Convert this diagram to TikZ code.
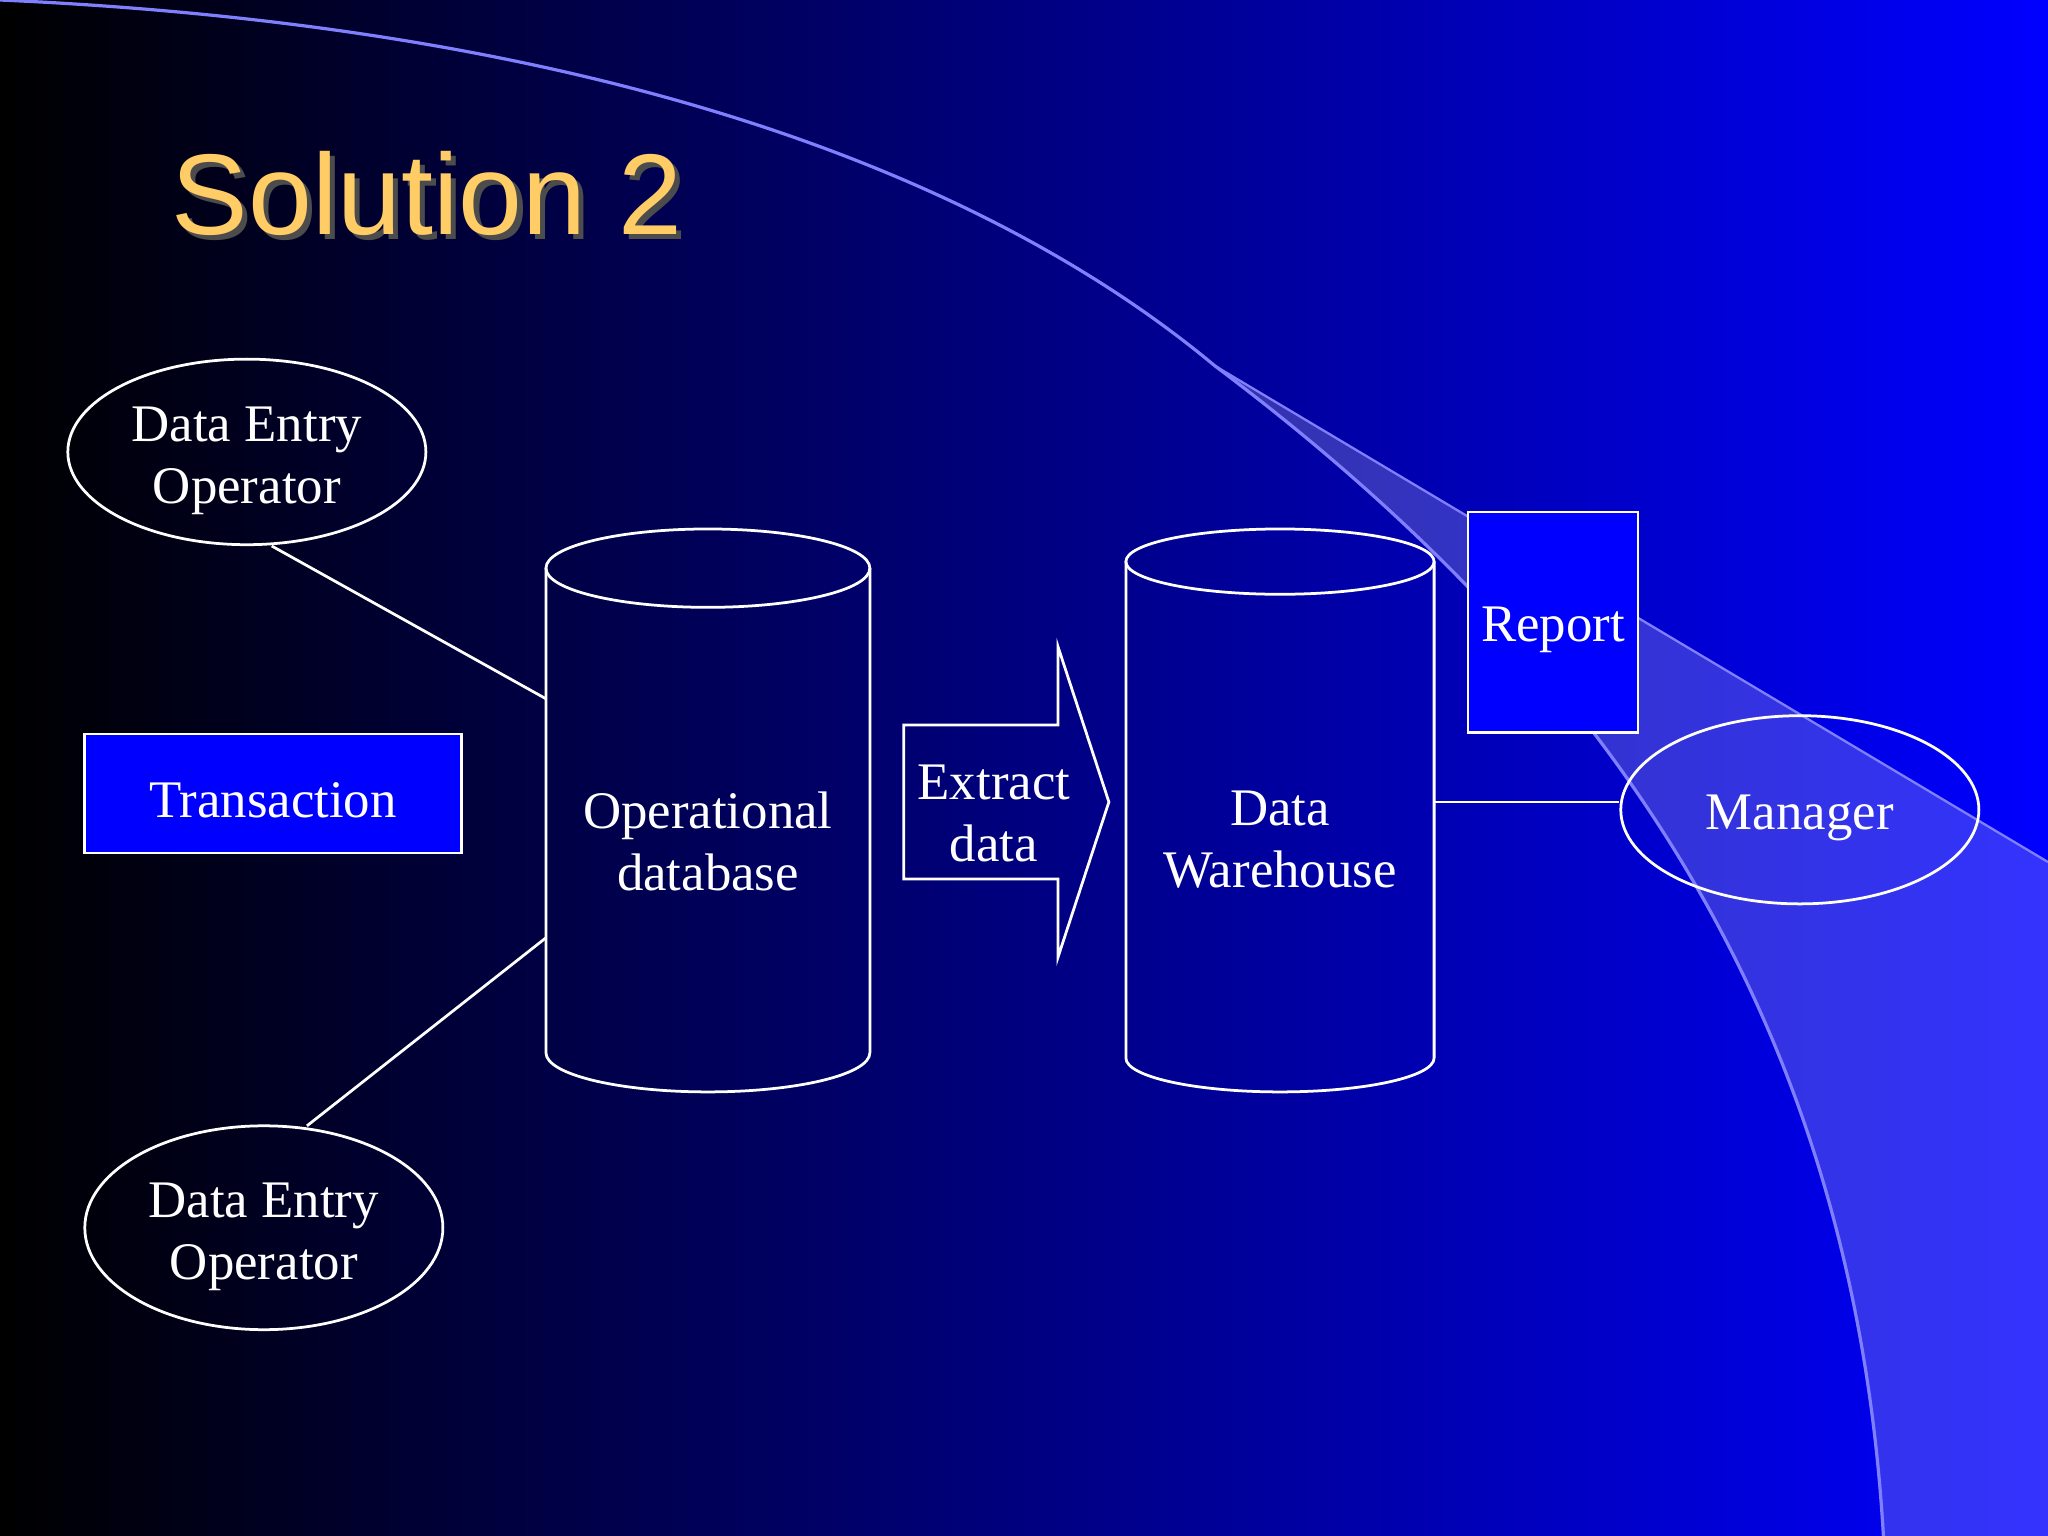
\documentclass[tikz,border=0pt]{standalone}
\usepackage{fontspec}
\setmainfont{Liberation Serif}
\newfontfamily\titlefont{Liberation Sans}
\usetikzlibrary{shapes.geometric}
\definecolor{pblue}{RGB}{0,0,255}
\definecolor{titlec}{RGB}{255,204,102}
\begin{document}
\begin{tikzpicture}[x=0.01cm,y=-0.01cm,
  wline/.style={draw=white,line width=0.6pt},
  lbl/.style={text=white,align=center,font=\fontsize{11.5}{13.5}\selectfont},
  ell/.style={ellipse,wline,inner sep=0pt},
  bluebox/.style={wline,fill=pblue,inner sep=0pt}]
\useasboundingbox (0,0) rectangle (1568,1176);
\shade[left color=black,right color=pblue] (0,0) rectangle (1568,1176);
% light band
\fill[white,opacity=0.2] (930,280) .. controls (1250,520) and (1420,800) .. (1442,1176) -- (1568,1176) -- (1568,660) -- cycle;
\draw[pblue!50!white,line width=0.7pt] (0,0) .. controls (450,20) and (750,130) .. (930,280) .. controls (1250,520) and (1420,800) .. (1442,1176);
\draw[pblue!50!white,line width=0.5pt] (930,280) -- (1568,660);
% title
\node[text=black!70,font=\titlefont\fontsize{25}{28}\selectfont,anchor=west] at (123,152) {Solution 2};
\node[text=titlec,font=\titlefont\fontsize{25}{28}\selectfont,anchor=west] (title) at (119,148) {Solution 2};
% ellipses
\node[ell,minimum width=2.74cm,minimum height=1.42cm,label={[lbl,yshift=-0.07cm]center:{Data Entry\\Operator}}] (deo1) at (189,346) {};
\node[ell,minimum width=2.74cm,minimum height=1.56cm,label={[lbl,yshift=-0.07cm]center:{Data Entry\\Operator}}] (deo2) at (202,940) {};
\node[ell,minimum width=2.74cm,minimum height=1.44cm,label={[lbl,yshift=-0.06cm]center:Manager}] (mgr) at (1378,620) {};
% boxes
\node[bluebox,minimum width=2.88cm,minimum height=0.91cm,label={[lbl,yshift=-0.05cm]center:Transaction}] (trans) at (209,607.5) {};
\node[bluebox,minimum width=1.30cm,minimum height=1.69cm,label={[lbl,yshift=-0.06cm]center:Report}] (rep) at (1189,476.5) {};
% op db cylinder
\draw[wline] (418,435) -- (418,806) arc[start angle=180,end angle=0,x radius=124,y radius=30] -- (666,435);
\draw[wline] (542,435) ellipse[x radius=124,y radius=30];
\node[lbl] (opdb) at (542,644) {Operational\\database};
% DW cylinder
\draw[wline] (862,430) -- (862,810) arc[start angle=180,end angle=0,x radius=118,y radius=26] -- (1098,430);
\draw[wline] (980,430) ellipse[x radius=118,y radius=25];
\node[lbl] (dw) at (980,643) {Data\\Warehouse};
% arrow
\draw[wline] (692,555) -- (810,555) -- (810,495) -- (849,614) -- (810,733) -- (810,673) -- (692,673) -- cycle;
\node[lbl] (ext) at (761,623) {Extract\\data};
% connectors
\coordinate (c1) at (418,535);
\coordinate (c2) at (418,718);
\coordinate (c3) at (1098,614);
\coordinate (d1) at (208,418);
\coordinate (d2) at (235,862);
\draw[wline] (d1) -- (c1);
\draw[wline] (c2) -- (d2);
\draw[wline] (c3) -- (c3 -| mgr.west);
\end{tikzpicture}
\end{document}
